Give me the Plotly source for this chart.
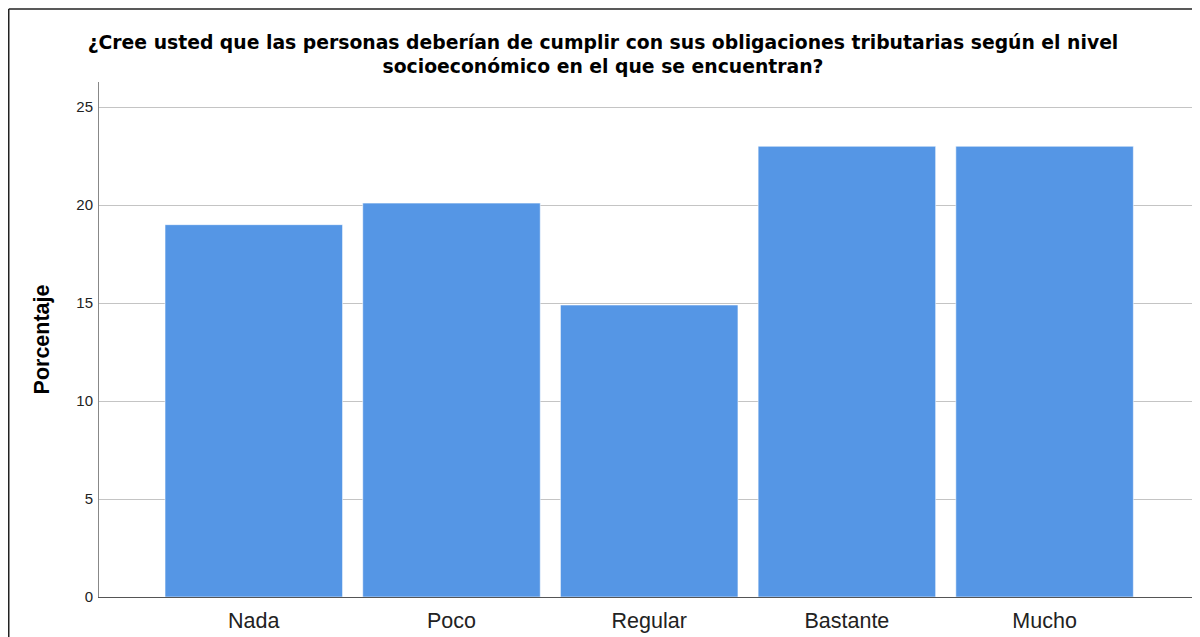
import plotly.graph_objects as go

categories = ["Nada", "Poco", "Regular", "Bastante", "Mucho"]
porcentaje = [19.0, 20.1, 14.9, 23.0, 23.0]
y_ticks = [0, 5, 10, 15, 20, 25]

title_text = ("¿Cree usted que las personas deberían de cumplir con sus obligaciones tributarias según el nivel"
              "<br>socioeconómico en el que se encuentran?")

W, H = 1200, 637
L, R, T, B = 91, 10, 74, 48
pw, ph = W - L - R, H - T - B

fig = go.Figure()
fig.add_trace(go.Bar(
    x=categories, y=porcentaje,
    marker=dict(color="#5596E5", line=dict(color="rgba(255,255,255,0.55)", width=1)),
    hoverinfo="x+y",
))

fig.update_layout(
    width=W, height=H,
    margin=dict(l=L, r=R, t=T, b=B),
    paper_bgcolor="white", plot_bgcolor="white",
    bargap=0.102,
    showlegend=False,
    title=dict(text=title_text, x=595 / W, xref="container", xanchor="center",
               y=1 - 41 / H, yref="container", yanchor="middle",
               font=dict(family="DejaVu Sans, Liberation Sans, Arial, sans-serif", size=18.8,
                         color="#000000", weight="bold")),
    font=dict(family="Liberation Sans, Arial, sans-serif"),
    xaxis=dict(
        type="category", range=[-0.783, 4.776],
        showline=True, linecolor="#555555", linewidth=1,
        showgrid=False, ticks="", zeroline=False,
        tickfont=dict(size=21.5, color="#222222"),
        ticklabelstandoff=4,
    ),
    yaxis=dict(
        range=[0, 26.28],
        tickvals=y_ticks,
        showline=True, linecolor="#888888", linewidth=1,
        showgrid=True, gridcolor="#c4c4c4", gridwidth=1,
        zeroline=False, ticks="",
        tickfont=dict(size=15, color="#222222"),
        ticklabelstandoff=2,
        title=dict(text="Porcentaje", standoff=20,
                   font=dict(size=21.5, color="#000000", weight="bold")),
    ),
)

# outer frame lines (partially visible in reference)
fx = (0.75 - L) / pw
fy = (H - B - 1.0) / ph
fig.add_shape(type="line", xref="paper", yref="paper", x0=fx, x1=(W + 5 - L) / pw, y0=fy, y1=fy,
              line=dict(color="#222222", width=1.5))
fig.add_shape(type="line", xref="paper", yref="paper", x0=fx, x1=fx, y0=fy, y1=-(B + 5) / ph,
              line=dict(color="#222222", width=1.5))

fig.write_html("out.html")
